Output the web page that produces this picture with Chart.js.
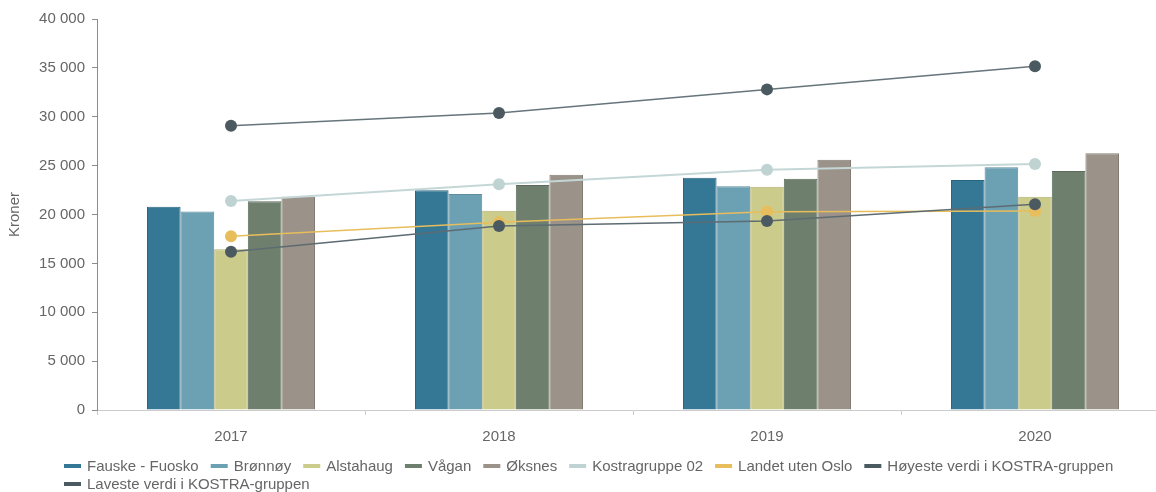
<!DOCTYPE html>
<html>
<head>
<meta charset="utf-8">
<script src="https://cdn.jsdelivr.net/npm/chart.js@4/dist/chart.umd.min.js"></script>
<style>
  html, body { margin: 0; padding: 0; background: #fff; overflow: hidden; }
  #wrap { width: 1180px; height: 492px; }
</style>
</head>
<body>
<div id="wrap"><canvas id="chart" width="1180" height="492"></canvas></div>
<script>
// ---------- data ----------
const years = ['2017', '2018', '2019', '2020'];
const fauske    = [20800, 22470, 23770, 23530];
const bronnoy   = [20300, 22100, 22880, 24830];
const alstahaug = [16450, 20390, 22850, 21820];
const vagan     = [21350, 23020, 23670, 24450];
const oksnes    = [21820, 24070, 25610, 26260];
const kostra    = [21380, 23090, 24590, 25170];
const landet    = [17770, 19200, 20290, 20360];
const hoyeste   = [29080, 30380, 32800, 35160];
const laveste   = [16200, 18820, 19330, 21040];
const yTicks = [0, 5000, 10000, 15000, 20000, 25000, 30000, 35000, 40000];

const FONT = '"Liberation Sans", Arial, sans-serif';
Chart.defaults.font.family = FONT;
Chart.defaults.color = '#666';

const fmt = v => String(v).replace(/\B(?=(\d{3})+(?!\d))/g, ' ');

function bar(label, data, fill, border) {
  return { type: 'bar', label, data, backgroundColor: fill, borderColor: border,
           borderWidth: 1, order: 10, legendColor: fill };
}
function line(label, data, lineColor, pointColor, order, width) {
  return { type: 'line', label, data, borderColor: lineColor, borderWidth: width || 1.5,
           pointBackgroundColor: pointColor, pointBorderColor: pointColor, pointBorderWidth: 0,
           pointRadius: 6, pointHoverRadius: 6, fill: false, tension: 0, order, legendColor: pointColor };
}

const datasets = [
  bar('Fauske - Fuosko', fauske, '#347896', '#2b6680'),
  bar('Brønnøy', bronnoy, '#6ca0b3', '#5d8d9e'),
  bar('Alstahaug', alstahaug, '#cbcb8b', '#b2b276'),
  bar('Vågan', vagan, '#6e806d', '#5c6b5b'),
  bar('Øksnes', oksnes, '#9b9289', '#847c73'),
  line('Kostragruppe 02', kostra, '#c4d7d6', '#bfd3d2', 3, 2),
  line('Landet uten Oslo', landet, '#e8bd5b', '#e8bd5b', 2),
  line('Høyeste verdi i KOSTRA-gruppen', hoyeste, '#66757b', '#4b5a61', 1),
  line('Laveste verdi i KOSTRA-gruppen', laveste, '#5d6b72', '#4b5a61', 0)
];

// legend drawn under the axis, left aligned, wraps like the original
const bottomLegend = {
  id: 'bottomLegend',
  afterDraw(chart) {
    const ctx = chart.ctx;
    ctx.save();
    ctx.font = '15px ' + FONT;
    ctx.textBaseline = 'middle';
    ctx.textAlign = 'left';
    const startX = 64, maxX = 1156, rowH = 18, boxW = 17, boxH = 4, gap = 6, itemGap = 12;
    let x = startX, y = 466;
    chart.data.datasets.forEach(ds => {
      const w = boxW + gap + ctx.measureText(ds.label).width;
      if (x > startX && x + w > maxX) { x = startX; y += rowH; }
      ctx.fillStyle = ds.legendColor;
      ctx.fillRect(x, y - boxH / 2, boxW, boxH);
      ctx.fillStyle = '#666';
      ctx.fillText(ds.label, x + boxW + gap, y + 1);
      x += w + itemGap;
    });
    ctx.restore();
  }
};

new Chart(document.getElementById('chart'), {
  data: { labels: years, datasets },
  options: {
    responsive: false,
    animation: false,
    layout: { padding: { left: 0, right: 11, top: 19, bottom: 0 } },
    plugins: { legend: { display: false }, tooltip: { enabled: false } },
    datasets: { bar: { categoryPercentage: 0.627, barPercentage: 1 } },
    scales: {
      x: {
        offset: true,
        grid: { display: true, drawOnChartArea: false, tickLength: 5, color: '#cccccc', offset: true },
        border: { color: '#cccccc' },
        ticks: { font: { size: 15 }, color: '#666', padding: 13 },
        afterFit: s => { s.height = 82; }
      },
      y: {
        min: 0, max: 40000,
        afterBuildTicks: s => { s.ticks = yTicks.map(v => ({ value: v })); },
        grid: { display: true, drawOnChartArea: false, tickLength: 5, color: '#8c8c8c' },
        border: { color: '#8c8c8c' },
        ticks: { font: { size: 15 }, color: '#666', padding: 7, callback: v => fmt(v) },
        title: { display: true, text: 'Kroner', font: { size: 15 }, color: '#666', padding: { top: 6, bottom: 0 } },
        afterFit: s => { s.width = 97; }
      }
    }
  },
  plugins: [bottomLegend]
});
</script>
</body>
</html>
